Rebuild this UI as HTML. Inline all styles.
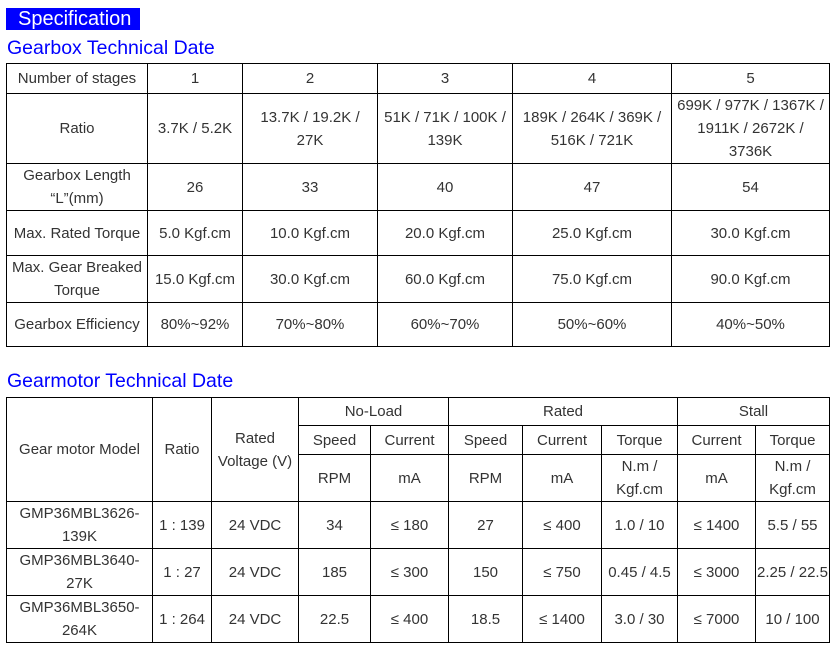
<!DOCTYPE html>
<html>
<head>
<meta charset="utf-8">
<style>
html,body{margin:0;padding:0;background:#fff;}
body{width:839px;height:650px;position:relative;overflow:hidden;font-family:"Liberation Sans",Arial,sans-serif;}
.spec{position:absolute;left:6px;top:8px;width:134px;height:22px;background:#0000ff;color:#fff;font-size:20px;line-height:22px;}
.spec span{position:absolute;left:12px;top:0;}
.h{position:absolute;left:7px;color:#0000ff;font-size:19.5px;line-height:22px;white-space:nowrap;}
.c{position:absolute;box-sizing:border-box;border:1px solid #000;display:flex;align-items:center;justify-content:center;text-align:center;color:#333;font-size:15px;line-height:23px;white-space:nowrap;}
</style>
</head>
<body>
<div class="spec"><span>Specification</span></div>
<div class="h" style="top:37px;">Gearbox Technical Date</div>

<!-- Table 1 -->
<div class="c" style="left:6px;top:63px;width:142px;height:31px;">Number of stages</div>
<div class="c" style="left:147px;top:63px;width:96px;height:31px;">1</div>
<div class="c" style="left:242px;top:63px;width:136px;height:31px;">2</div>
<div class="c" style="left:377px;top:63px;width:136px;height:31px;">3</div>
<div class="c" style="left:512px;top:63px;width:160px;height:31px;">4</div>
<div class="c" style="left:671px;top:63px;width:159px;height:31px;">5</div>

<div class="c" style="left:6px;top:93px;width:142px;height:71px;">Ratio</div>
<div class="c" style="left:147px;top:93px;width:96px;height:71px;">3.7K / 5.2K</div>
<div class="c" style="left:242px;top:93px;width:136px;height:71px;">13.7K / 19.2K /<br>27K</div>
<div class="c" style="left:377px;top:93px;width:136px;height:71px;">51K / 71K / 100K /<br>139K</div>
<div class="c" style="left:512px;top:93px;width:160px;height:71px;">189K / 264K / 369K /<br>516K / 721K</div>
<div class="c" style="left:671px;top:93px;width:159px;height:71px;">699K / 977K / 1367K /<br>1911K / 2672K /<br>3736K</div>

<div class="c" style="left:6px;top:163px;width:142px;height:48px;">Gearbox Length<br>“L”(mm)</div>
<div class="c" style="left:147px;top:163px;width:96px;height:48px;">26</div>
<div class="c" style="left:242px;top:163px;width:136px;height:48px;">33</div>
<div class="c" style="left:377px;top:163px;width:136px;height:48px;">40</div>
<div class="c" style="left:512px;top:163px;width:160px;height:48px;">47</div>
<div class="c" style="left:671px;top:163px;width:159px;height:48px;">54</div>

<div class="c" style="left:6px;top:210px;width:142px;height:46px;">Max. Rated Torque</div>
<div class="c" style="left:147px;top:210px;width:96px;height:46px;">5.0 Kgf.cm</div>
<div class="c" style="left:242px;top:210px;width:136px;height:46px;">10.0 Kgf.cm</div>
<div class="c" style="left:377px;top:210px;width:136px;height:46px;">20.0 Kgf.cm</div>
<div class="c" style="left:512px;top:210px;width:160px;height:46px;">25.0 Kgf.cm</div>
<div class="c" style="left:671px;top:210px;width:159px;height:46px;">30.0 Kgf.cm</div>

<div class="c" style="left:6px;top:255px;width:142px;height:48px;">Max. Gear Breaked<br>Torque</div>
<div class="c" style="left:147px;top:255px;width:96px;height:48px;">15.0 Kgf.cm</div>
<div class="c" style="left:242px;top:255px;width:136px;height:48px;">30.0 Kgf.cm</div>
<div class="c" style="left:377px;top:255px;width:136px;height:48px;">60.0 Kgf.cm</div>
<div class="c" style="left:512px;top:255px;width:160px;height:48px;">75.0 Kgf.cm</div>
<div class="c" style="left:671px;top:255px;width:159px;height:48px;">90.0 Kgf.cm</div>

<div class="c" style="left:6px;top:302px;width:142px;height:45px;">Gearbox Efficiency</div>
<div class="c" style="left:147px;top:302px;width:96px;height:45px;">80%~92%</div>
<div class="c" style="left:242px;top:302px;width:136px;height:45px;">70%~80%</div>
<div class="c" style="left:377px;top:302px;width:136px;height:45px;">60%~70%</div>
<div class="c" style="left:512px;top:302px;width:160px;height:45px;">50%~60%</div>
<div class="c" style="left:671px;top:302px;width:159px;height:45px;">40%~50%</div>

<div class="h" style="top:370px;">Gearmotor Technical Date</div>

<!-- Table 2 -->
<div class="c" style="left:6px;top:397px;width:147px;height:105px;">Gear motor Model</div>
<div class="c" style="left:152px;top:397px;width:60px;height:105px;">Ratio</div>
<div class="c" style="left:211px;top:397px;width:88px;height:105px;">Rated<br>Voltage (V)</div>
<div class="c" style="left:298px;top:397px;width:151px;height:29px;">No-Load</div>
<div class="c" style="left:448px;top:397px;width:230px;height:29px;">Rated</div>
<div class="c" style="left:677px;top:397px;width:153px;height:29px;">Stall</div>

<div class="c" style="left:298px;top:425px;width:73px;height:30px;">Speed</div>
<div class="c" style="left:370px;top:425px;width:79px;height:30px;">Current</div>
<div class="c" style="left:448px;top:425px;width:75px;height:30px;">Speed</div>
<div class="c" style="left:522px;top:425px;width:80px;height:30px;">Current</div>
<div class="c" style="left:601px;top:425px;width:77px;height:30px;">Torque</div>
<div class="c" style="left:677px;top:425px;width:79px;height:30px;">Current</div>
<div class="c" style="left:755px;top:425px;width:75px;height:30px;">Torque</div>

<div class="c" style="left:298px;top:454px;width:73px;height:48px;">RPM</div>
<div class="c" style="left:370px;top:454px;width:79px;height:48px;">mA</div>
<div class="c" style="left:448px;top:454px;width:75px;height:48px;">RPM</div>
<div class="c" style="left:522px;top:454px;width:80px;height:48px;">mA</div>
<div class="c" style="left:601px;top:454px;width:77px;height:48px;">N.m /<br>Kgf.cm</div>
<div class="c" style="left:677px;top:454px;width:79px;height:48px;">mA</div>
<div class="c" style="left:755px;top:454px;width:75px;height:48px;">N.m /<br>Kgf.cm</div>

<div class="c" style="left:6px;top:501px;width:147px;height:48px;">GMP36MBL3626-<br>139K</div>
<div class="c" style="left:152px;top:501px;width:60px;height:48px;">1 : 139</div>
<div class="c" style="left:211px;top:501px;width:88px;height:48px;">24 VDC</div>
<div class="c" style="left:298px;top:501px;width:73px;height:48px;">34</div>
<div class="c" style="left:370px;top:501px;width:79px;height:48px;">≤ 180</div>
<div class="c" style="left:448px;top:501px;width:75px;height:48px;">27</div>
<div class="c" style="left:522px;top:501px;width:80px;height:48px;">≤ 400</div>
<div class="c" style="left:601px;top:501px;width:77px;height:48px;">1.0 / 10</div>
<div class="c" style="left:677px;top:501px;width:79px;height:48px;">≤ 1400</div>
<div class="c" style="left:755px;top:501px;width:75px;height:48px;">5.5 / 55</div>

<div class="c" style="left:6px;top:548px;width:147px;height:48px;">GMP36MBL3640-<br>27K</div>
<div class="c" style="left:152px;top:548px;width:60px;height:48px;">1 : 27</div>
<div class="c" style="left:211px;top:548px;width:88px;height:48px;">24 VDC</div>
<div class="c" style="left:298px;top:548px;width:73px;height:48px;">185</div>
<div class="c" style="left:370px;top:548px;width:79px;height:48px;">≤ 300</div>
<div class="c" style="left:448px;top:548px;width:75px;height:48px;">150</div>
<div class="c" style="left:522px;top:548px;width:80px;height:48px;">≤ 750</div>
<div class="c" style="left:601px;top:548px;width:77px;height:48px;">0.45 / 4.5</div>
<div class="c" style="left:677px;top:548px;width:79px;height:48px;">≤ 3000</div>
<div class="c" style="left:755px;top:548px;width:75px;height:48px;">2.25 / 22.5</div>

<div class="c" style="left:6px;top:595px;width:147px;height:48px;">GMP36MBL3650-<br>264K</div>
<div class="c" style="left:152px;top:595px;width:60px;height:48px;">1 : 264</div>
<div class="c" style="left:211px;top:595px;width:88px;height:48px;">24 VDC</div>
<div class="c" style="left:298px;top:595px;width:73px;height:48px;">22.5</div>
<div class="c" style="left:370px;top:595px;width:79px;height:48px;">≤ 400</div>
<div class="c" style="left:448px;top:595px;width:75px;height:48px;">18.5</div>
<div class="c" style="left:522px;top:595px;width:80px;height:48px;">≤ 1400</div>
<div class="c" style="left:601px;top:595px;width:77px;height:48px;">3.0 / 30</div>
<div class="c" style="left:677px;top:595px;width:79px;height:48px;">≤ 7000</div>
<div class="c" style="left:755px;top:595px;width:75px;height:48px;">10 / 100</div>
</body>
</html>
